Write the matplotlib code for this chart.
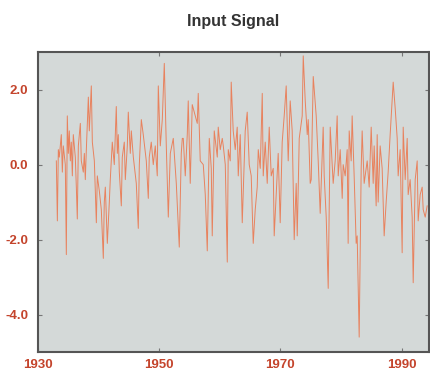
import numpy as np
import matplotlib
matplotlib.use('Agg')
import matplotlib.pyplot as plt

# signal (year, value)
years = [
    1933.05, 1933.22, 1933.38, 1933.54, 1933.87, 1934.04, 1934.20, 1934.53, 1934.70, 1934.86,
    1935.03, 1935.19, 1935.36, 1935.52, 1935.69, 1935.85, 1936.18, 1936.35, 1936.51, 1936.68,
    1937.01, 1937.17, 1937.50, 1937.67, 1937.83, 1938.00, 1938.33, 1938.49, 1938.82, 1938.99,
    1939.32, 1939.65, 1939.81, 1940.14, 1940.47, 1940.80, 1940.96, 1941.13, 1941.46, 1941.79,
    1941.95, 1942.28, 1942.61, 1942.94, 1943.11,
    1943.27, 1943.44, 1943.77, 1943.93, 1944.26, 1944.43, 1944.76, 1944.92, 1945.25, 1945.42,
    1945.75, 1946.24, 1946.57, 1946.74, 1947.07, 1947.39, 1947.89, 1948.22, 1948.38, 1948.71,
    1949.04, 1949.37, 1949.70, 1949.87, 1950.20, 1950.53, 1950.86, 1951.19, 1951.52, 1951.85,
    1952.34, 1952.84, 1953.33, 1953.66, 1953.83,
    1953.99, 1954.32, 1954.65, 1954.81, 1955.14, 1955.47, 1955.80, 1956.30, 1956.46, 1956.79,
    1957.29, 1957.62, 1957.95, 1958.28, 1958.61, 1958.77, 1959.10, 1959.60, 1959.76, 1960.09,
    1960.42, 1960.59, 1960.92, 1961.25, 1961.41, 1961.74, 1961.90, 1962.23, 1962.56, 1962.89,
    1963.06, 1963.39, 1963.72, 1964.21, 1964.54, 1964.87,
    1965.20, 1965.53, 1965.86, 1966.19, 1966.36, 1966.69, 1967.02, 1967.18, 1967.51, 1967.84,
    1968.17, 1968.50, 1968.83, 1968.99, 1969.49, 1969.65, 1969.98, 1970.31, 1970.64, 1970.97,
    1971.30, 1971.63, 1971.96, 1972.29, 1972.62, 1972.79, 1973.12, 1973.61, 1973.78, 1974.11,
    1974.44, 1974.60, 1974.93, 1975.10, 1975.43,
    1975.92, 1976.25, 1976.58, 1977.07, 1977.24, 1977.57, 1977.90, 1978.23, 1978.72, 1979.05,
    1979.38, 1979.55, 1979.88, 1980.21, 1980.37, 1980.70, 1981.03, 1981.19, 1981.36, 1981.69,
    1981.85, 1982.18, 1982.51, 1982.68, 1983.01, 1983.34, 1983.50, 1983.83, 1984.33, 1984.66,
    1984.99, 1985.32, 1985.48, 1985.81, 1985.98, 1986.14,
    1986.47, 1986.80, 1987.13, 1987.46, 1987.79, 1988.12, 1988.45, 1988.62, 1988.95, 1989.28,
    1989.44, 1989.77, 1990.10, 1990.27, 1990.60, 1990.93, 1991.09, 1991.42, 1991.75, 1991.92,
    1992.25, 1992.58, 1992.74, 1993.07, 1993.40, 1993.57, 1993.90, 1994.22,
]
signal = [
    0.1, -1.5, 0.4, 0.2, 0.8, -0.2, 0.5, 0.0, -2.4, 1.3,
    0.3, 0.9, 0.1, 0.6, -0.3, 0.8, 0.2, -0.6, -1.45, 0.5,
    1.1, 0.1, -0.2, 0.3, -0.4, 0.4, 1.8, 0.9, 2.1, 0.6,
    0.1, -1.55, -0.3, -0.7, -1.2, -2.5, -1.0, -0.6, -2.1, -1.0,
    -0.4, 0.6, 0.0, 1.55, 0.3,
    0.8, -0.2, -1.1, 0.2, 0.6, -0.4, 0.5, 1.4, 0.3, 0.9,
    0.2, -0.5, -1.7, 0.0, 1.2, 0.8, 0.1, -0.9, 0.2, 0.6,
    0.0, 0.5, -0.3, 2.1, 0.5, 1.2, 2.7, 0.5, -1.4, 0.3,
    0.7, -0.5, -2.2, 0.3, 0.7,
    0.7, -0.3, 0.8, 1.7, -0.5, 1.6, 1.4, 1.1, 1.9, 0.1,
    0.0, -0.8, -2.3, 0.7, -0.1, -1.9, 0.9, 0.2, 1.0, 0.4,
    0.7, 0.5, 0.0, -2.6, 0.4, 0.1, 2.2, 0.9, 0.4, 1.0,
    -0.3, 0.8, -1.55, 0.9, 1.4, 0.0,
    -0.3, -2.1, -1.2, -0.6, 0.4, -0.1, 1.9, -0.3, 0.6, -0.5,
    1.0, -0.3, -0.1, -1.9, -0.2, 0.3, -1.55, 0.6, 1.3, 2.1,
    0.1, 1.7, 0.9, -2.0, -0.5, -1.9, 0.7, 1.3, 2.9, 1.7,
    0.8, 1.2, -0.5, -0.4, 2.35,
    1.3, 0.1, -1.3, 1.0, -0.3, -1.4, -3.3, 1.0, -0.5, 0.1,
    1.3, -0.3, 0.4, -0.9, 0.0, -0.3, 0.4, -2.1, 0.9, 0.1,
    1.3, -0.3, -2.1, -1.9, -4.6, -0.1, 0.9, -0.5, 0.1, -0.6,
    1.0, -0.5, 0.5, -1.1, 0.8, -1.0,
    0.5, -0.1, -1.9, -1.0, -0.2, 0.8, 1.7, 2.2, 1.5, 0.7,
    -0.3, 0.4, -2.35, 1.0, -0.4, 0.7, -0.8, -0.4, -1.4, -3.15,
    -0.4, 0.1, -1.5, -0.8, -0.6, -1.2, -1.4, -1.1,
]
xticks = [1930, 1950, 1970, 1990]
yticks = [2.0, 0.0, -2.0, -4.0]

label_color = '#c4442c'
line_color = '#e8825e'

plt.rcParams['font.family'] = ['Liberation Sans', 'DejaVu Sans']

fig = plt.figure(figsize=(4.3, 3.75), dpi=100)
ax = fig.add_axes([0.088, 0.061, 0.91, 0.80])
ax.set_facecolor('#d4d9d8')

ax.plot(years, signal, color=line_color, linewidth=0.7)

ax.set_xlim(1930, 1994.55)
ax.set_ylim(-5, 3)
ax.set_xticks(xticks)
ax.set_yticks(yticks)
ax.set_xticklabels([str(t) for t in xticks])
ax.set_yticklabels(['%.1f' % t for t in yticks])
ax.tick_params(direction='in', length=3, width=0.8, color='#777777',
               top=True, right=True, labelsize=9.5, labelcolor=label_color)
ax.tick_params(axis='x', pad=5)
ax.tick_params(axis='y', pad=7)
for lab in ax.get_xticklabels() + ax.get_yticklabels():
    lab.set_fontweight('bold')
for sp in ax.spines.values():
    sp.set_color('#555555')
    sp.set_linewidth(1.5)

ax.set_title('Input Signal', fontsize=11.5, fontweight='bold', color='#333333', pad=19)

fig.savefig('out.png', dpi=100)
